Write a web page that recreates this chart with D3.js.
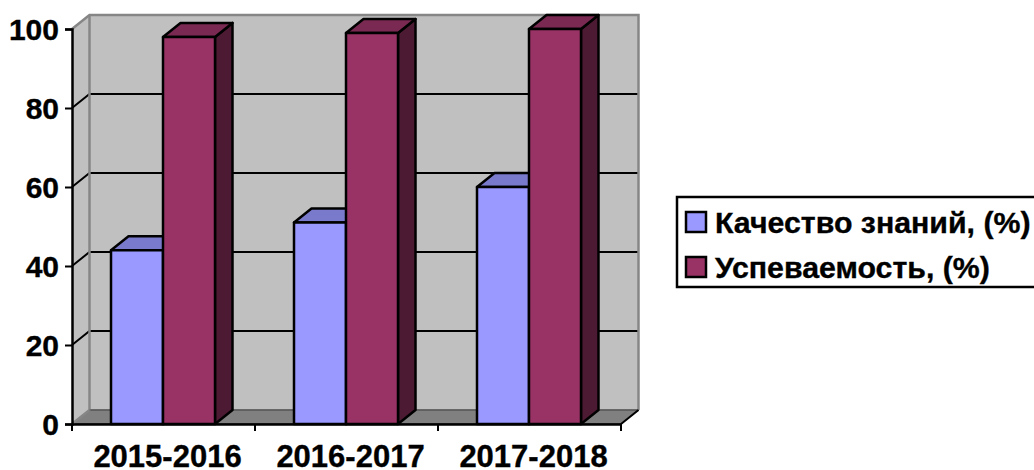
<!DOCTYPE html>
<html>
<head>
<meta charset="utf-8">
<script src="https://cdn.jsdelivr.net/npm/d3@7"></script>
<style>
  html, body { margin: 0; padding: 0; background: #fff; overflow: hidden; }
  text { font-family: "Liberation Sans", Arial, sans-serif; font-weight: bold; fill: #000; stroke: #000; stroke-width: 0.35px; }
</style>
</head>
<body>
<div id="chart"></div>
<script>
// Chart data
const years = ["2015-2016", "2016-2017", "2017-2018"];
const seriesNames = ["Качество знаний, (%)", "Успеваемость, (%)"];
const quality = [44, 51, 60];
const progress = [98, 99, 100];
const yTicks = [0, 20, 40, 60, 80, 100];

const w = 1034, h = 470;
const plotL = 72, plotR = 621, plotT = 29, plotB = 424;
// offset of the back wall from the front plane
const dx = 17.5, dy = -14;

const front = ["#9999ff", "#993366"];
const topFace = ["#7a7acc", "#7a2952"];
const sideFace = ["#5c5c99", "#4d1a33"];

const svg = d3.select("#chart").append("svg").attr("width", w).attr("height", h).style("display", "block");

const xScale = d3.scaleBand().domain(years).range([plotL, plotR]);
const yScale = d3.scaleLinear().domain([0, 100]).range([plotB, plotT]);
// two bars take 104 of the 183 wide category
const barScale = d3.scaleBand().domain([0, 1]).range([39, 143]);

const poly = (pts) => pts.map(p => p.join(",")).join(" ");

// Side wall and back wall
svg.append("polygon")
    .attr("points", poly([[plotL, plotT], [plotL + dx, plotT + dy], [plotL + dx, plotB + dy], [plotL, plotB]]))
    .attr("fill", "#c0c0c0");
svg.append("rect")
    .attr("x", plotL + dx).attr("y", plotT + dy)
    .attr("width", plotR - plotL).attr("height", plotB - plotT)
    .attr("fill", "#c0c0c0");

// Floor
svg.append("polygon")
    .attr("points", poly([[plotL, plotB], [plotL + dx, plotB + dy], [plotR + dx, plotB + dy], [plotR, plotB]]))
    .attr("fill", "#808080").attr("stroke", "#000").attr("stroke-width", 1);

// Gridlines, running along the side wall and then across the back wall
yTicks.filter(d => d > 0 && d < 100).forEach(d => {
    svg.append("polyline")
        .attr("points", poly([[plotL, yScale(d)], [plotL + dx, yScale(d) + dy], [plotR + dx, yScale(d) + dy]]))
        .attr("fill", "none").attr("stroke", "#000").attr("stroke-width", 2);
});

// Grey wall edges
svg.append("polyline")
    .attr("points", poly([[plotL, plotT], [plotL + dx, plotT + dy], [plotR + dx, plotT + dy], [plotR + dx, plotB + dy]]))
    .attr("fill", "none").attr("stroke", "#868686").attr("stroke-width", 2.5);
svg.append("polyline")
    .attr("points", poly([[plotL, plotB], [plotL + dx, plotB + dy], [plotL + dx, plotT + dy]]))
    .attr("fill", "none").attr("stroke", "#868686").attr("stroke-width", 2.5);
svg.append("line")
    .attr("x1", plotL + dx).attr("x2", plotR + dx)
    .attr("y1", plotB + dy).attr("y2", plotB + dy)
    .attr("stroke", "#6a6a6a").attr("stroke-width", 1.5);
svg.append("line")
    .attr("x1", plotR).attr("x2", plotR + dx)
    .attr("y1", plotB).attr("y2", plotB + dy)
    .attr("stroke", "#000").attr("stroke-width", 2);

// Bars with front, top and side faces
[quality, progress].forEach((values, s) => {
    const g = svg.append("g").selectAll("g").data(values).enter().append("g")
        .attr("stroke", "#000").attr("stroke-width", 2.5).attr("stroke-linejoin", "round");
    const x0 = (d, i) => xScale(years[i]) + barScale(s);
    const x1 = (d, i) => x0(d, i) + barScale.bandwidth();

    g.append("polygon")
        .attr("fill", sideFace[s])
        .attr("points", (d, i) => poly([[x1(d, i), yScale(d)], [x1(d, i) + dx, yScale(d) + dy], [x1(d, i) + dx, plotB + dy], [x1(d, i), plotB]]));
    g.append("polygon")
        .attr("fill", topFace[s])
        .attr("points", (d, i) => poly([[x0(d, i), yScale(d)], [x0(d, i) + dx, yScale(d) + dy], [x1(d, i) + dx, yScale(d) + dy], [x1(d, i), yScale(d)]]));
    g.append("rect")
        .attr("fill", front[s])
        .attr("x", x0)
        .attr("y", d => yScale(d))
        .attr("width", barScale.bandwidth())
        .attr("height", d => plotB - yScale(d));
});

// Axes
const yAxis = d3.axisLeft(yScale).tickValues(yTicks).tickSize(7).tickPadding(6);
const gy = svg.append("g").attr("transform", "translate(" + plotL + ",0)").call(yAxis);
gy.selectAll("text").style("font-size", "30px").attr("dy", "0.36em");

const xAxis = d3.axisBottom(xScale).tickSize(0).tickPadding(43);
const gx = svg.append("g").attr("transform", "translate(0," + plotB + ")").call(xAxis);
gx.selectAll("text").style("font-size", "31px").attr("dy", 0).attr("dx", 4);
gx.selectAll("line.sep").data(d3.range(years.length + 1)).enter().append("line")
    .attr("class", "sep")
    .attr("x1", i => plotL + i * xScale.step()).attr("x2", i => plotL + i * xScale.step())
    .attr("y1", 0).attr("y2", 7).attr("stroke", "#000").attr("stroke-width", 2);

svg.selectAll(".domain").attr("stroke", "#000").attr("stroke-width", 2.5);
svg.selectAll(".tick line").attr("stroke", "#000").attr("stroke-width", 2);

// Legend
const legend = svg.append("g");
legend.append("rect")
    .attr("x", 677).attr("y", 197).attr("width", 400).attr("height", 90)
    .attr("fill", "#fff").attr("stroke", "#000").attr("stroke-width", 2.5);
const legendRow = d3.scalePoint().domain([0, 1]).range([222, 267]);
seriesNames.forEach((name, i) => {
    legend.append("rect")
        .attr("x", 686).attr("y", legendRow(i) - 10).attr("width", 20).attr("height", 20)
        .attr("fill", front[i]).attr("stroke", "#000").attr("stroke-width", 2.5);
    legend.append("text")
        .attr("x", 715).attr("y", legendRow(i)).attr("dy", "0.36em")
        .style("font-size", "30.3px").text(name);
});
</script>
</body>
</html>
